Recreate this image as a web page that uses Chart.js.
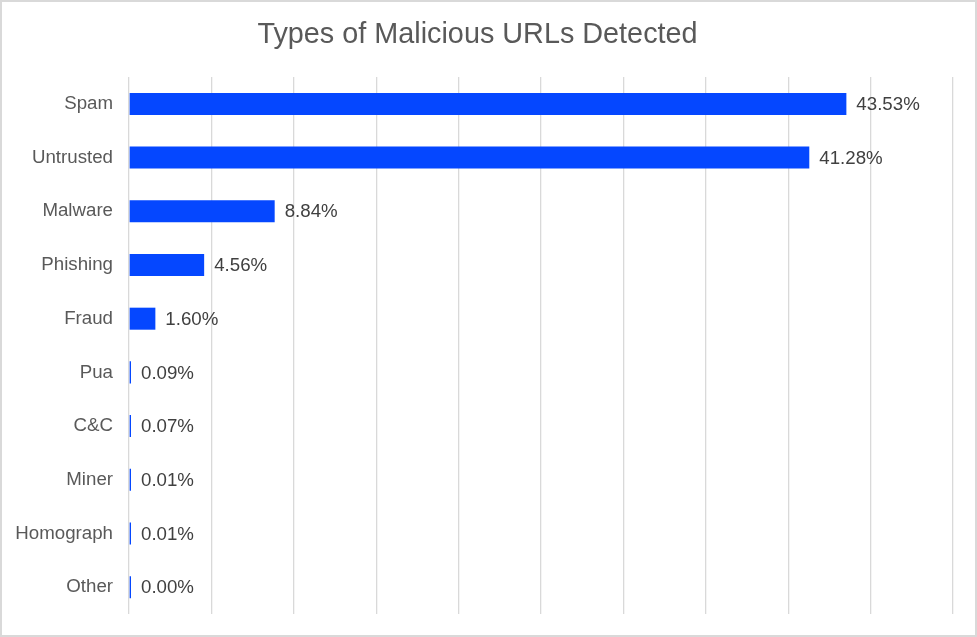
<!DOCTYPE html>
<html>
<head>
<meta charset="utf-8">
<script src="https://cdn.jsdelivr.net/npm/chart.js@4/dist/chart.umd.min.js"></script>
<style>
    body { margin: 0; background: #fff; }
    #wrap { width: 977px; height: 637px; box-sizing: border-box; border: 2px solid #d9d9d9; background: #fff; }
</style>
</head>
<body>
<div id="wrap"><canvas id="urlChart"></canvas></div>
<script>
// Values
const categories = ['Spam', 'Untrusted', 'Malware', 'Phishing', 'Fraud', 'Pua', 'C&C', 'Miner', 'Homograph', 'Other'];
const shares = [43.53, 41.28, 8.84, 4.56, 1.60, 0.09, 0.07, 0.01, 0.01, 0.00];
const shareLabels = ['43.53%', '41.28%', '8.84%', '4.56%', '1.60%', '0.09%', '0.07%', '0.01%', '0.01%', '0.00%'];

const fontFamily = "Arial, 'Liberation Sans', sans-serif";

// Draws the percentage next to the end of each bar
const barLabels = {
    id: 'barLabels',
    afterDatasetsDraw(chart) {
        const ctx = chart.ctx;
        const meta = chart.getDatasetMeta(0);
        ctx.save();
        ctx.font = '18.7px ' + fontFamily;
        ctx.fillStyle = '#404040';
        ctx.textAlign = 'left';
        ctx.textBaseline = 'middle';
        meta.data.forEach((bar, i) => {
            ctx.fillText(shareLabels[i], Math.max(bar.x, bar.base + 1) + 10, bar.y + 1);
        });
        ctx.restore();
    }
};

document.addEventListener("DOMContentLoaded", function() {
    let ctx = document.getElementById('urlChart').getContext('2d');
    new Chart(ctx, {
        type: 'bar',
        data: {
            labels: categories,
            datasets: [{
                data: shares,
                backgroundColor: '#0547FF',
                borderWidth: 0,
                minBarLength: 2,
                categoryPercentage: 1,
                barPercentage: 0.41
            }]
        },
        plugins: [barLabels],
        options: {
            indexAxis: 'y',
            responsive: true,
            maintainAspectRatio: false,
            animation: false,
            layout: { padding: { left: 0, right: 22, top: 0, bottom: 21 } },
            plugins: {
                legend: { display: false },
                tooltip: { enabled: false },
                title: {
                    display: true,
                    text: 'Types of Malicious URLs Detected',
                    color: '#595959',
                    font: { family: fontFamily, size: 28.8, weight: 'normal' },
                    padding: { top: 16, bottom: 24.5 }
                }
            },
            scales: {
                x: {
                    min: 0,
                    max: 50,
                    ticks: { display: false, stepSize: 5 },
                    grid: { color: '#d9d9d9', lineWidth: 1.3, drawTicks: false },
                    border: { display: false },
                    afterFit: function(scale) { scale.height = 0; }
                },
                y: {
                    grid: { display: false },
                    border: { display: false },
                    ticks: {
                        color: '#595959',
                        padding: 8,
                        font: { family: fontFamily, size: 18.7 }
                    },
                    afterFit: function(scale) { scale.width = 127; }
                }
            }
        }
    });
});
</script>
</body>
</html>
